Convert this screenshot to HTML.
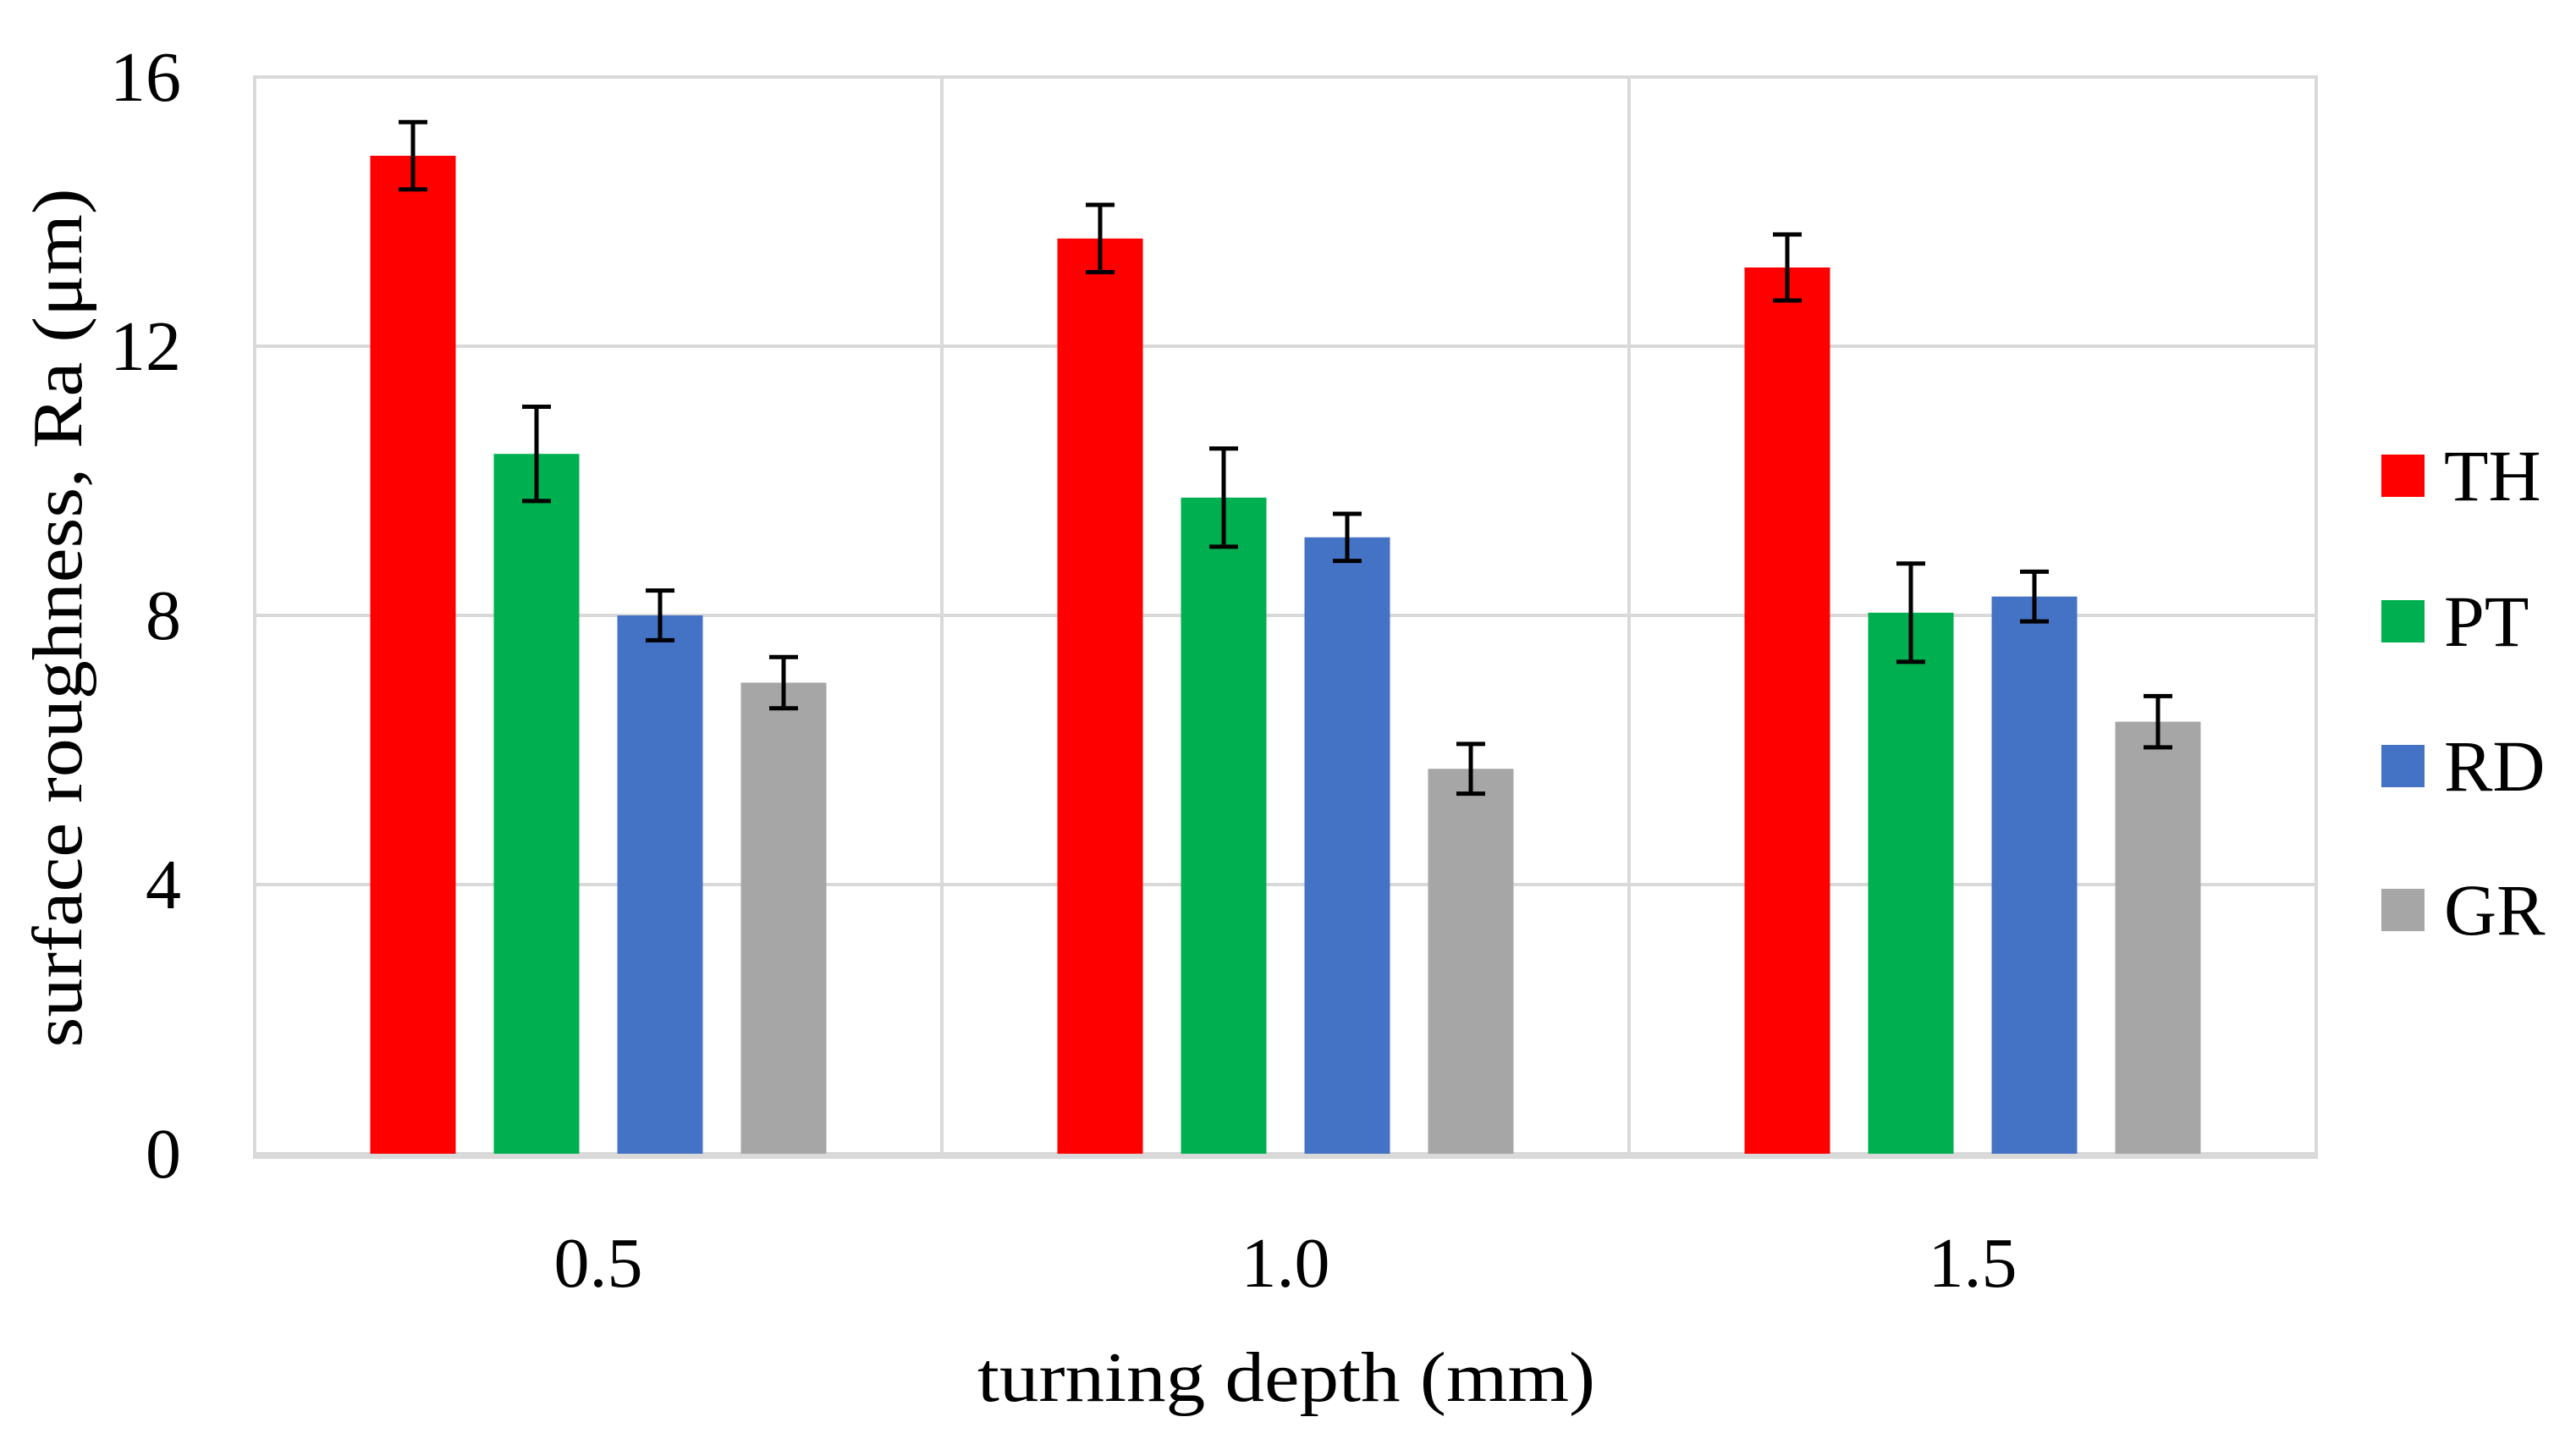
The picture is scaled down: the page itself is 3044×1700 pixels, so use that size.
<!DOCTYPE html>
<html><head><meta charset="utf-8"><style>
html,body{margin:0;padding:0;background:#fff;}
svg{display:block;font-family:"Liberation Serif",serif;}
</style></head><body>
<svg id="chart" width="3044" height="1700" viewBox="0 0 3044 1700" xmlns="http://www.w3.org/2000/svg">
<g id="grid"></g>
<g id="bars"></g>
<g id="errs"></g>
<g id="ylabels"></g>
<g id="xlabels"></g>
<text x="1520" y="1655" font-size="84" text-anchor="middle" textLength="730" lengthAdjust="spacingAndGlyphs">turning depth (mm)</text>
<text transform="translate(96,730) rotate(-90)" font-size="84" text-anchor="middle" textLength="1015" lengthAdjust="spacingAndGlyphs">surface roughness, Ra (μm)</text>
<g id="legend"></g>
</svg>
<script>
const categories = ["0.5", "1.0", "1.5"];
const seriesNames = ["TH", "PT", "RD", "GR"];
const seriesColors = ["#ff0000", "#00b050", "#4472c4", "#a6a6a6"];
const valuesTH = [14.83, 13.6, 13.17];
const valuesPT = [10.4, 9.75, 8.04];
const valuesRD = [8.0, 9.16, 8.28];
const valuesGR = [7.0, 5.72, 6.42];
const errTH = [0.5, 0.5, 0.49];
const errPT = [0.7, 0.73, 0.73];
const errRD = [0.37, 0.35, 0.37];
const errGR = [0.38, 0.37, 0.38];
const yTicks = [0, 4, 8, 12, 16];

const NS = "http://www.w3.org/2000/svg";
const plotLeft = 301, plotRight = 2737, plotTop = 91, plotBottom = 1363, yMax = 16;
const catW = (plotRight - plotLeft) / categories.length;
const barW = 101, barGap = 45;
function yScale(v) { return plotBottom - (v / yMax) * (plotBottom - plotTop); }
function xBar(ci, si) {
  const groupW = seriesNames.length * barW + (seriesNames.length - 1) * barGap;
  return plotLeft + catW * ci + (catW - groupW) / 2 + si * (barW + barGap);
}
function mk(tag, attrs, parent) {
  const e = document.createElementNS(NS, tag);
  for (const k in attrs) e.setAttribute(k, attrs[k]);
  parent.appendChild(e);
  return e;
}
const grid = document.getElementById("grid");
yTicks.forEach(t => {
  if (t === 0) return;
  const l = mk("line", {x1: plotLeft, x2: plotRight, y1: yScale(t), y2: yScale(t), stroke: "#d9d9d9", "stroke-width": 4}, grid);
  
  
});
for (let i = 0; i <= categories.length; i++) {
  const x = plotLeft + catW * i;
  const l = mk("line", {x1: x, x2: x, y1: plotTop - 2, y2: plotBottom, stroke: "#d9d9d9", "stroke-width": 4}, grid);
  
  
}
const axis = mk("line", {x1: plotLeft - 2, x2: plotRight + 2, y1: plotBottom + 2, y2: plotBottom + 2, stroke: "#d9d9d9", "stroke-width": 8}, grid);



const allVals = [valuesTH, valuesPT, valuesRD, valuesGR];
const allErrs = [errTH, errPT, errRD, errGR];
const bars = document.getElementById("bars"), errs = document.getElementById("errs");
categories.forEach((c, ci) => {
  seriesNames.forEach((s, si) => {
    const v = allVals[si][ci], e = allErrs[si][ci];
    const x = xBar(ci, si);
    const r = mk("rect", {x: x, y: yScale(v), width: barW, height: plotBottom - yScale(v), fill: seriesColors[si]}, bars);
    
    
    const cx = x + barW / 2, y1 = yScale(v + e), y2 = yScale(v - e);
    const g = mk("g", {stroke: "#000", "stroke-width": 5}, errs);
    
    
    mk("line", {x1: cx, x2: cx, y1: y1, y2: y2}, g);
    mk("line", {x1: cx - 17, x2: cx + 17, y1: y1, y2: y1}, g);
    mk("line", {x1: cx - 17, x2: cx + 17, y1: y2, y2: y2}, g);
  });
});
const yl = document.getElementById("ylabels");
yTicks.forEach(t => {
  const tx = mk("text", {x: 214, y: yScale(t) + 28, "font-size": 84, "text-anchor": "end"}, yl);
  tx.textContent = t;
  
  
});
const xl = document.getElementById("xlabels");
categories.forEach((c, ci) => {
  const tx = mk("text", {x: plotLeft + catW * (ci + 0.5), y: 1520, "font-size": 84, "text-anchor": "middle"}, xl);
  tx.textContent = c;
  
  
});
const lg = document.getElementById("legend");
const legY = [562, 734, 905, 1075];
seriesNames.forEach((s, si) => {
  const g = mk("g", {}, lg);
  
  
  mk("rect", {x: 2814, y: legY[si] - 25, width: 51, height: 50, fill: seriesColors[si]}, g);
  const t = mk("text", {x: 2888, y: legY[si] + 29, "font-size": 86}, g);
  t.textContent = s;
});
</script>
</body></html>
